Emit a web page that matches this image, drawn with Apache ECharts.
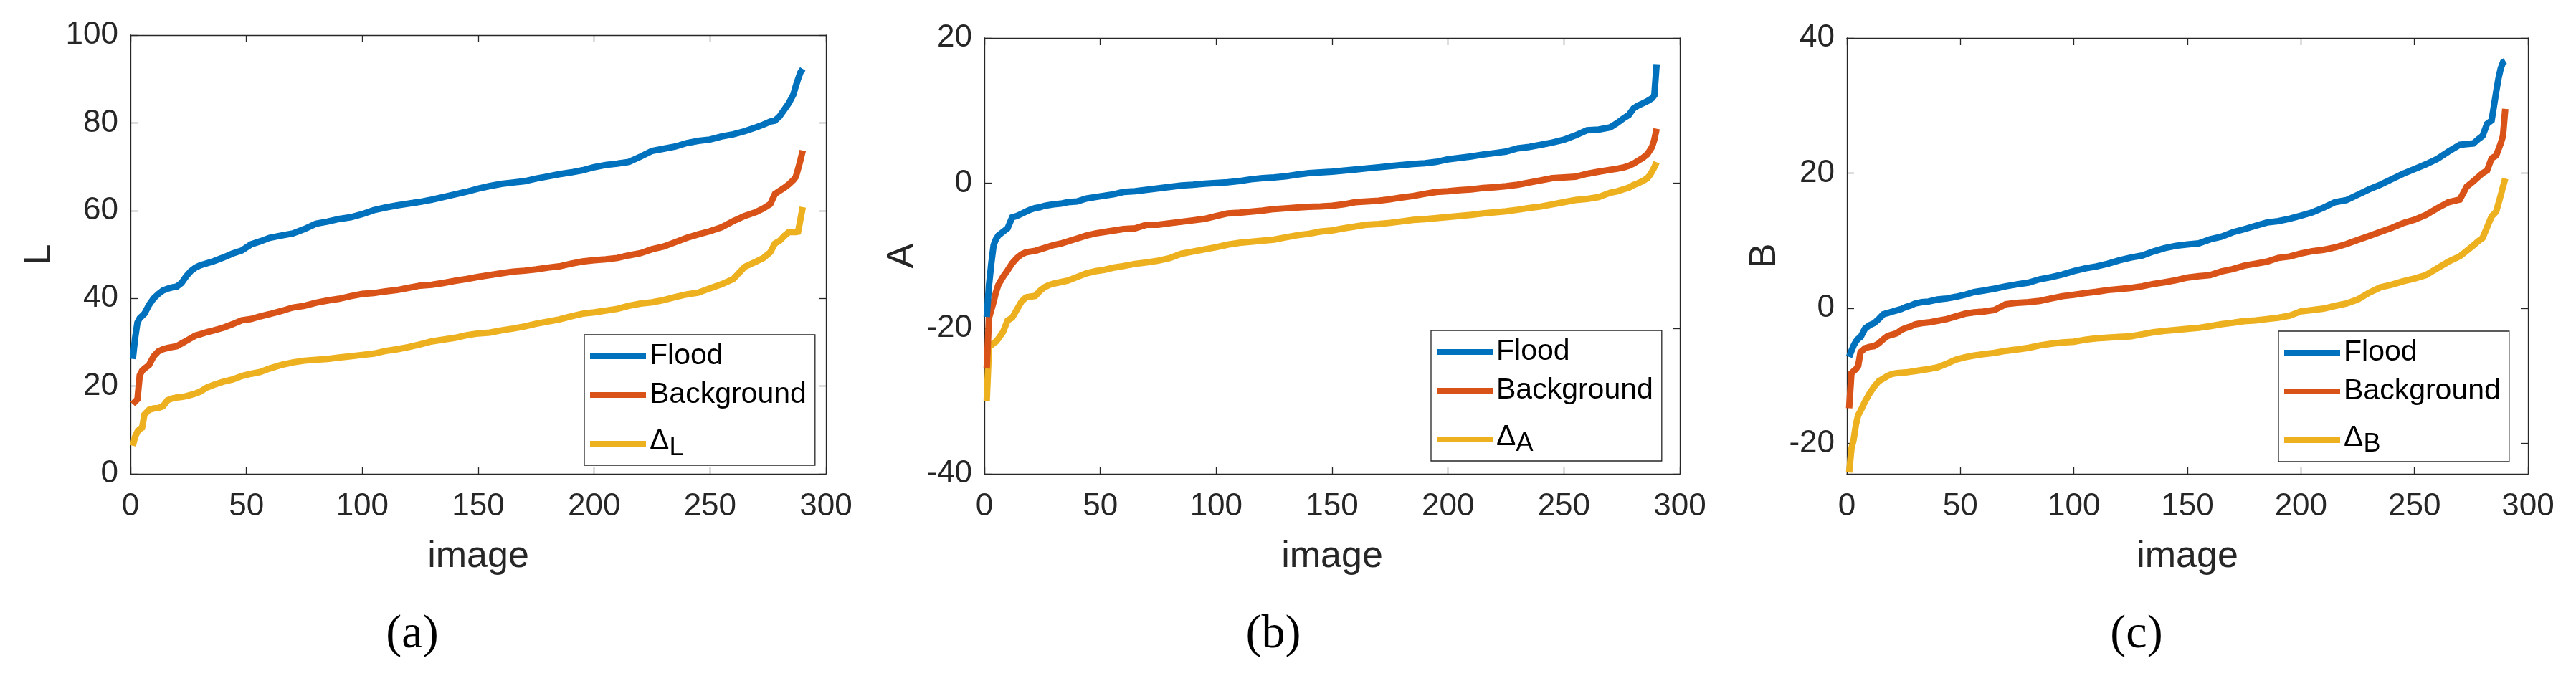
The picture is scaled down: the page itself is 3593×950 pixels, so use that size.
<!DOCTYPE html>
<html><head><meta charset="utf-8">
<script src="https://cdn.jsdelivr.net/npm/echarts@6/dist/echarts.min.js"></script>
<style>html,body{margin:0;padding:0;background:#fff}#c{width:3593px;height:950px}</style>
</head><body><div id="c"></div>
<script>
// ---------------- DATA ----------------
const imageIdx = [1,2,3,4,5,6,8,10,12,14,16,18,20,22,24,26,28,30,33,36,40,44,48,52,56,60,65,70,75,80,85,90,95,100,105,110,115,120,125,130,135,140,145,150,155,160,165,170,175,180,185,190,195,200,205,210,215,220,225,230,235,240,245,250,255,260,265,270,273,276,278,280,282,284,286,287,288,289,290];

const floodL = [26.2,31,34.5,35.5,36,36.5,38.5,40,41,41.8,42.2,42.5,42.7,43.5,45,46.2,47,47.5,48,48.5,49.3,50.2,50.9,52.3,53,53.8,54.3,54.8,55.8,57,57.5,58.1,58.5,59.2,60.1,60.7,61.2,61.6,62,62.5,63.1,63.7,64.3,65,65.6,66.1,66.4,66.7,67.3,67.8,68.3,68.7,69.2,69.9,70.4,70.7,71.1,72.3,73.6,74.1,74.6,75.4,75.9,76.2,76.9,77.4,78.1,79,79.6,80.3,80.5,81.5,83,84.5,86.5,88.4,90,91.5,92.3];
const backgroundL = [15.9,16.5,17,22.5,23.5,24,24.8,26.8,27.9,28.4,28.7,28.9,29.1,29.7,30.3,30.9,31.5,31.8,32.3,32.7,33.3,34.1,35,35.3,35.9,36.4,37.1,37.9,38.3,39,39.5,39.9,40.5,41,41.2,41.6,41.9,42.4,42.9,43.1,43.5,44,44.4,44.9,45.3,45.7,46.1,46.3,46.6,47,47.3,47.9,48.4,48.7,48.9,49.2,49.8,50.3,51.2,51.8,52.8,53.8,54.6,55.3,56.2,57.6,58.8,59.7,60.5,61.5,63.8,64.5,65.2,66,67,67.7,69.5,71.5,73.7];
const deltaL = [6.4,8.5,9.6,10.2,10.5,13.5,14.6,14.9,15,15.4,16.8,17.2,17.4,17.5,17.7,18,18.3,18.7,19.7,20.3,21,21.5,22.3,22.8,23.2,24,24.8,25.4,25.8,26,26.2,26.5,26.8,27.1,27.4,28,28.4,28.9,29.5,30.2,30.6,31,31.6,32,32.2,32.7,33.1,33.6,34.2,34.7,35.2,35.9,36.5,36.8,37.2,37.6,38.3,38.8,39.1,39.6,40.3,40.9,41.3,42.3,43.2,44.4,47.2,48.4,49.2,50.5,52.5,53.1,54.2,55.1,55.1,55.1,55.2,58,60.8];

const floodA = [-18.4,-14,-11,-8.5,-7.7,-7.2,-6.7,-6.2,-4.7,-4.5,-4.2,-3.9,-3.6,-3.4,-3.3,-3.1,-3,-2.9,-2.8,-2.6,-2.5,-2.1,-1.9,-1.7,-1.5,-1.2,-1.1,-0.9,-0.7,-0.5,-0.3,-0.2,-0.05,0.05,0.15,0.3,0.55,0.7,0.8,0.95,1.2,1.4,1.5,1.6,1.75,1.9,2.05,2.2,2.35,2.5,2.65,2.75,2.95,3.3,3.5,3.7,3.95,4.15,4.35,4.8,5,5.3,5.6,6,6.6,7.3,7.4,7.7,8.3,9,9.4,10.3,10.7,11,11.3,11.5,11.7,12.1,16.4];
const backgroundA = [-25.5,-18.5,-17.4,-16.3,-15,-14,-12.9,-12,-11,-10.3,-9.8,-9.5,-9.4,-9.3,-9.1,-8.9,-8.7,-8.5,-8.3,-8,-7.6,-7.2,-6.9,-6.7,-6.5,-6.3,-6.2,-5.7,-5.7,-5.5,-5.3,-5.1,-4.9,-4.5,-4.15,-4.05,-3.9,-3.75,-3.55,-3.45,-3.35,-3.25,-3.2,-3.1,-2.9,-2.6,-2.5,-2.4,-2.2,-1.95,-1.75,-1.45,-1.2,-1.1,-0.95,-0.85,-0.65,-0.55,-0.4,-0.2,0.1,0.4,0.7,0.8,0.9,1.3,1.6,1.85,2,2.2,2.4,2.7,3.1,3.5,4,4.5,5,6,7.5];
const deltaA = [-30,-22.5,-22.3,-22,-21.8,-21.4,-20.5,-18.9,-18.5,-17.4,-16.3,-15.7,-15.6,-15.5,-14.8,-14.3,-14,-13.8,-13.6,-13.4,-12.9,-12.4,-12.1,-11.9,-11.6,-11.4,-11.1,-10.9,-10.65,-10.3,-9.7,-9.4,-9.1,-8.8,-8.45,-8.2,-8.05,-7.9,-7.75,-7.45,-7.15,-6.95,-6.65,-6.5,-6.2,-5.95,-5.7,-5.6,-5.45,-5.25,-5.05,-4.95,-4.8,-4.65,-4.5,-4.35,-4.15,-4,-3.85,-3.65,-3.4,-3.2,-2.9,-2.6,-2.3,-2.15,-1.9,-1.3,-1.1,-0.8,-0.6,-0.25,0,0.3,0.7,1.1,1.6,2.2,2.9];

const floodB = [-7.2,-6.3,-5.5,-4.9,-4.5,-4.3,-3,-2.5,-2.2,-1.6,-0.9,-0.7,-0.5,-0.3,-0.1,0.2,0.4,0.7,0.9,1,1.3,1.45,1.7,2,2.4,2.6,2.9,3.25,3.55,3.8,4.3,4.6,5,5.5,5.9,6.2,6.6,7.1,7.5,7.8,8.4,8.9,9.25,9.45,9.6,10.2,10.6,11.25,11.7,12.2,12.7,12.9,13.25,13.7,14.2,14.9,15.7,16,16.8,17.6,18.3,19.1,19.9,20.6,21.3,22.1,23.2,24.2,24.3,24.4,25,25.5,27.3,27.8,32,34,35.5,36.4,36.6];
const backgroundB = [-14.8,-9.6,-9.3,-9,-8.5,-6.5,-5.9,-5.7,-5.6,-5.2,-4.6,-4.1,-3.9,-3.7,-3.2,-2.9,-2.7,-2.4,-2.2,-2.1,-1.85,-1.6,-1.2,-0.8,-0.6,-0.5,-0.25,0.6,0.8,0.9,1.1,1.45,1.8,2,2.25,2.45,2.7,2.85,3,3.25,3.6,3.85,4.15,4.55,4.75,4.9,5.45,5.8,6.3,6.6,6.9,7.45,7.65,8.1,8.45,8.65,9,9.5,10.1,10.7,11.3,11.9,12.6,13.1,13.8,14.8,15.7,16.1,18,18.8,19.4,20,20.4,22.2,22.6,23.5,24.4,25.5,29.5];
const deltaB = [-24.3,-20.8,-19.4,-17.2,-15.8,-15.2,-13.8,-12.6,-11.6,-10.8,-10.4,-10,-9.7,-9.6,-9.55,-9.5,-9.4,-9.3,-9.15,-9,-8.75,-8.2,-7.6,-7.25,-7,-6.8,-6.6,-6.3,-6.1,-5.85,-5.5,-5.25,-5.05,-4.95,-4.65,-4.45,-4.35,-4.25,-4.15,-3.85,-3.55,-3.35,-3.2,-3.05,-2.9,-2.65,-2.35,-2.15,-1.9,-1.8,-1.6,-1.4,-1.1,-0.45,-0.25,-0.05,0.35,0.7,1.3,2.3,3.1,3.5,4,4.4,4.9,5.9,6.9,7.7,8.5,9.3,9.9,10.4,12,13.6,14.3,15.5,16.7,18,19.2];

const seriesNames = ['Flood', 'Background'];
const deltaNames = ['Δ_L', 'Δ_A', 'Δ_B'];
const yAxisNames = ['L', 'A', 'B'];
const xAxisName = 'image';
const panelTags = ['(a)', '(b)', '(c)'];
const xTicks = [0, 50, 100, 150, 200, 250, 300];
const yTicksL = [0, 20, 40, 60, 80, 100];
const yTicksA = [-40, -20, 0, 20];
const yTicksB = [-20, 0, 20, 40];
const yMinB = -24.5;

// ---------------- LAYOUT / STYLE ----------------
const FONT = '"Liberation Sans", Arial, Helvetica, sans-serif';
const SERIF = '"Liberation Serif", "Times New Roman", serif';
const AX = '#262626';
const COLORS = ['#0072BD', '#D95319', '#EDB120'];

const panels = [
  { grid: {left: 182, top: 49, width: 970, height: 612}, yTicks: yTicksL, yMin: yTicksL[0], yMax: yTicksL[yTicksL.length-1],
    nameGap: 100, values: [floodL, backgroundL, deltaL], legend: {left: 815, top: 467}, tag: {x: 575, y: 886} },
  { grid: {left: 1373, top: 53, width: 970, height: 608}, yTicks: yTicksA, yMin: yTicksA[0], yMax: yTicksA[yTicksA.length-1],
    nameGap: 88, values: [floodA, backgroundA, deltaA], legend: {left: 1996, top: 461}, tag: {x: 1776, y: 886} },
  { grid: {left: 2576, top: 53, width: 950, height: 608}, yTicks: yTicksB, yMin: yMinB, yMax: yTicksB[yTicksB.length-1],
    nameGap: 88, values: [floodB, backgroundB, deltaB], legend: {left: 3178, top: 462}, tag: {x: 2980, y: 886} }
];

const lineAxis = {show: true, onZero: false, lineStyle: {color: AX, width: 1.3}};
const tickStyle = (vals) => ({show: true, inside: true, length: 10, lineStyle: {color: AX, width: 1.3}, customValues: vals});

const grids = [], xAxes = [], yAxes = [], series = [], legends = [], graphics = [];
panels.forEach((p, i) => {
  grids.push(Object.assign({containLabel: false, outerBoundsMode: 'none', show: false}, p.grid));
  const xBase = {type: 'value', gridIndex: i, min: xTicks[0], max: xTicks[xTicks.length-1], splitLine: {show: false}, axisLine: lineAxis};
  xAxes.push(Object.assign({}, xBase, {
    position: 'bottom', axisTick: tickStyle(xTicks),
    axisLabel: {show: true, customValues: xTicks, fontSize: 44, color: AX, fontFamily: FONT, margin: 24},
    name: xAxisName, nameLocation: 'middle', nameGap: 90,
    nameTextStyle: {fontSize: 52, color: AX, fontFamily: FONT}
  }));
  xAxes.push(Object.assign({}, xBase, {position: 'top', axisTick: tickStyle(xTicks), axisLabel: {show: false}}));
  const yBase = {type: 'value', gridIndex: i, min: p.yMin, max: p.yMax, splitLine: {show: false}, axisLine: lineAxis};
  yAxes.push(Object.assign({}, yBase, {
    position: 'left', axisTick: tickStyle(p.yTicks),
    axisLabel: {show: true, customValues: p.yTicks, fontSize: 44, color: AX, fontFamily: FONT, margin: 17},
    name: yAxisNames[i], nameLocation: 'middle', nameGap: p.nameGap, nameRotate: 90,
    nameTextStyle: {fontSize: 52, color: AX, fontFamily: FONT}
  }));
  yAxes.push(Object.assign({}, yBase, {position: 'right', axisTick: tickStyle(p.yTicks), axisLabel: {show: false}}));
  const names = [seriesNames[0], seriesNames[1], deltaNames[i]];
  names.forEach((nm, k) => {
    series.push({
      type: 'line', name: nm, xAxisIndex: i * 2, yAxisIndex: i * 2,
      data: imageIdx.map((x, j) => [x, p.values[k][j]]),
      showSymbol: false, symbol: 'none', animation: false, z: 3 - k,
      lineStyle: {color: COLORS[k], width: 9, join: 'miter'},
      itemStyle: {color: COLORS[k]}
    });
  });
  legends.push({
    show: true, orient: 'vertical', left: p.legend.left, top: p.legend.top,
    data: names, icon: 'rect', itemWidth: 78, itemHeight: 8, itemGap: 6,
    padding: [6, 12, 6, 8], borderColor: AX, borderWidth: 1.3, borderRadius: 0, backgroundColor: '#fff',
    selectedMode: false, itemStyle: {borderWidth: 0},
    textStyle: {fontSize: 41, color: '#000', fontFamily: FONT, lineHeight: 48,
      rich: {
        d: {fontSize: 41, lineHeight: 48, verticalAlign: 'top', fontFamily: FONT, color: '#000'},
        s: {fontSize: 36, lineHeight: 36, verticalAlign: 'bottom', padding: [26, 0, 0, 0], fontFamily: FONT, color: '#000'}
      }},
    formatter: (name) => name.indexOf('Δ_') === 0 ? '{d|Δ}{s|' + name.slice(2) + '}' : name
  });
  graphics.push({type: 'text', x: p.tag.x, y: p.tag.y,
    style: {text: panelTags[i], fontSize: 66, fontFamily: SERIF, fill: '#000', align: 'center', verticalAlign: 'middle'}});
});

const chart = echarts.init(document.getElementById('c'), null, {renderer: 'canvas'});
chart.setOption({
  backgroundColor: '#fff', animation: false,
  grid: grids, xAxis: xAxes, yAxis: yAxes, series: series, legend: legends, graphic: graphics
});
</script></body></html>
